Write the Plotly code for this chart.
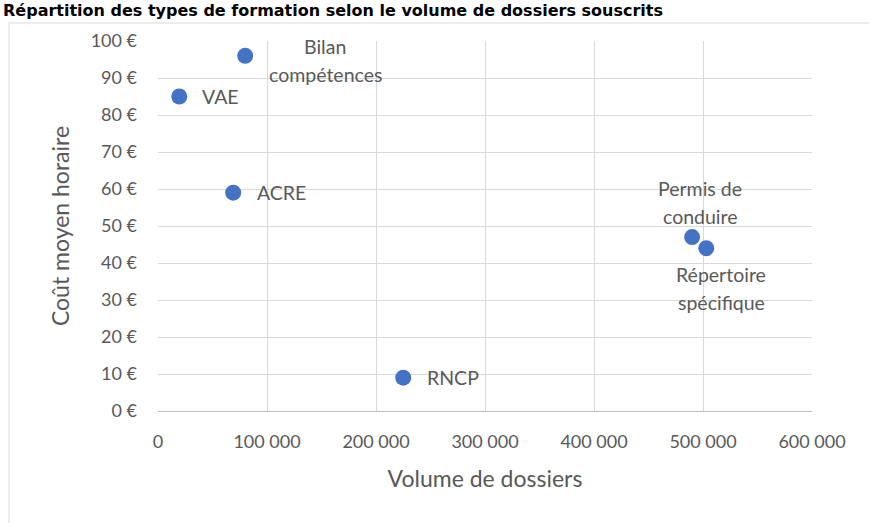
import plotly.graph_objects as go

# Données
formations = ["Bilan<br>compétences", "VAE", "ACRE", "RNCP", "Permis de<br>conduire", "Répertoire<br>spécifique"]
volumes = [80000, 19500, 69000, 225000, 490000, 503000]
couts = [96, 85, 59, 9, 47, 44]

y_ticks = [0, 10, 20, 30, 40, 50, 60, 70, 80, 90, 100]
y_labels = [f"{v} €" for v in y_ticks]

# décalage des étiquettes (pixels) : dx, dy de la 1re ligne
label_shift = {
    "Bilan<br>compétences": (80, 9),
    "VAE": (41, 0),
    "ACRE": (48, 0),
    "RNCP": (50, 0),
    "Permis de<br>conduire": (8, 49),
    "Répertoire<br>spécifique": (15, -26),
}
LINE_H = 28

GREY = "#595959"
FONT = "Lato, 'Open Sans', sans-serif"

fig = go.Figure()
fig.add_trace(go.Scatter(
    x=volumes, y=couts, mode="markers",
    marker=dict(color="#4472C4", size=16),
    hoverinfo="x+y", showlegend=False,
))

for name, vx, vy in zip(formations, volumes, couts):
    dx, dy = label_shift[name]
    for i, line in enumerate(name.split("<br>")):
        fig.add_annotation(x=vx, y=vy, text=line, showarrow=False,
                           xshift=dx, yshift=dy - i * LINE_H,
                           font=dict(size=19.5, color=GREY, family=FONT))

# titre
fig.add_annotation(xref="paper", yref="paper", x=-0.240, y=(411 - 11) / 370,
                   xanchor="left", yanchor="middle", showarrow=False,
                   text="<b>Répartition des types de formation selon le volume de dossiers souscrits</b>",
                   font=dict(size=16, color="black", family="DejaVu Sans"))

# cadre du graphique
fig.add_shape(type="rect", xref="paper", yref="paper",
              x0=-0.2278, x1=1.2, y0=-0.4, y1=(411 - 23) / 370,
              line=dict(color="#d9d9d9", width=1), layer="below")

fig.update_layout(
    width=869, height=523,
    margin=dict(l=158, r=57, t=41, b=112),
    paper_bgcolor="white", plot_bgcolor="white",
    separators=", ",
    font=dict(family=FONT, color=GREY, size=18),
    xaxis=dict(range=[0, 600000], dtick=100000, tickformat=",d",
               showgrid=True, gridcolor="#d9d9d9", gridwidth=1,
               zeroline=False, showline=True, linecolor="#bfbfbf",
               ticks="", ticklabelstandoff=14,
               title=dict(text="Volume de dossiers", font=dict(size=23, color=GREY), standoff=20)),
    yaxis=dict(range=[0, 100], tickvals=y_ticks, ticktext=y_labels,
               showgrid=True, gridcolor="#d9d9d9", gridwidth=1,
               zeroline=False, showline=False, ticks="", ticklabelstandoff=20,
               title=dict(text="Coût moyen horaire", font=dict(size=23, color=GREY), standoff=14)),
)

# la page ajoute une marge de 8 px autour du graphique : on la retire
fig.write_html("out.html", config={"displayModeBar": False},
               post_script="document.body.style.margin='0';")
